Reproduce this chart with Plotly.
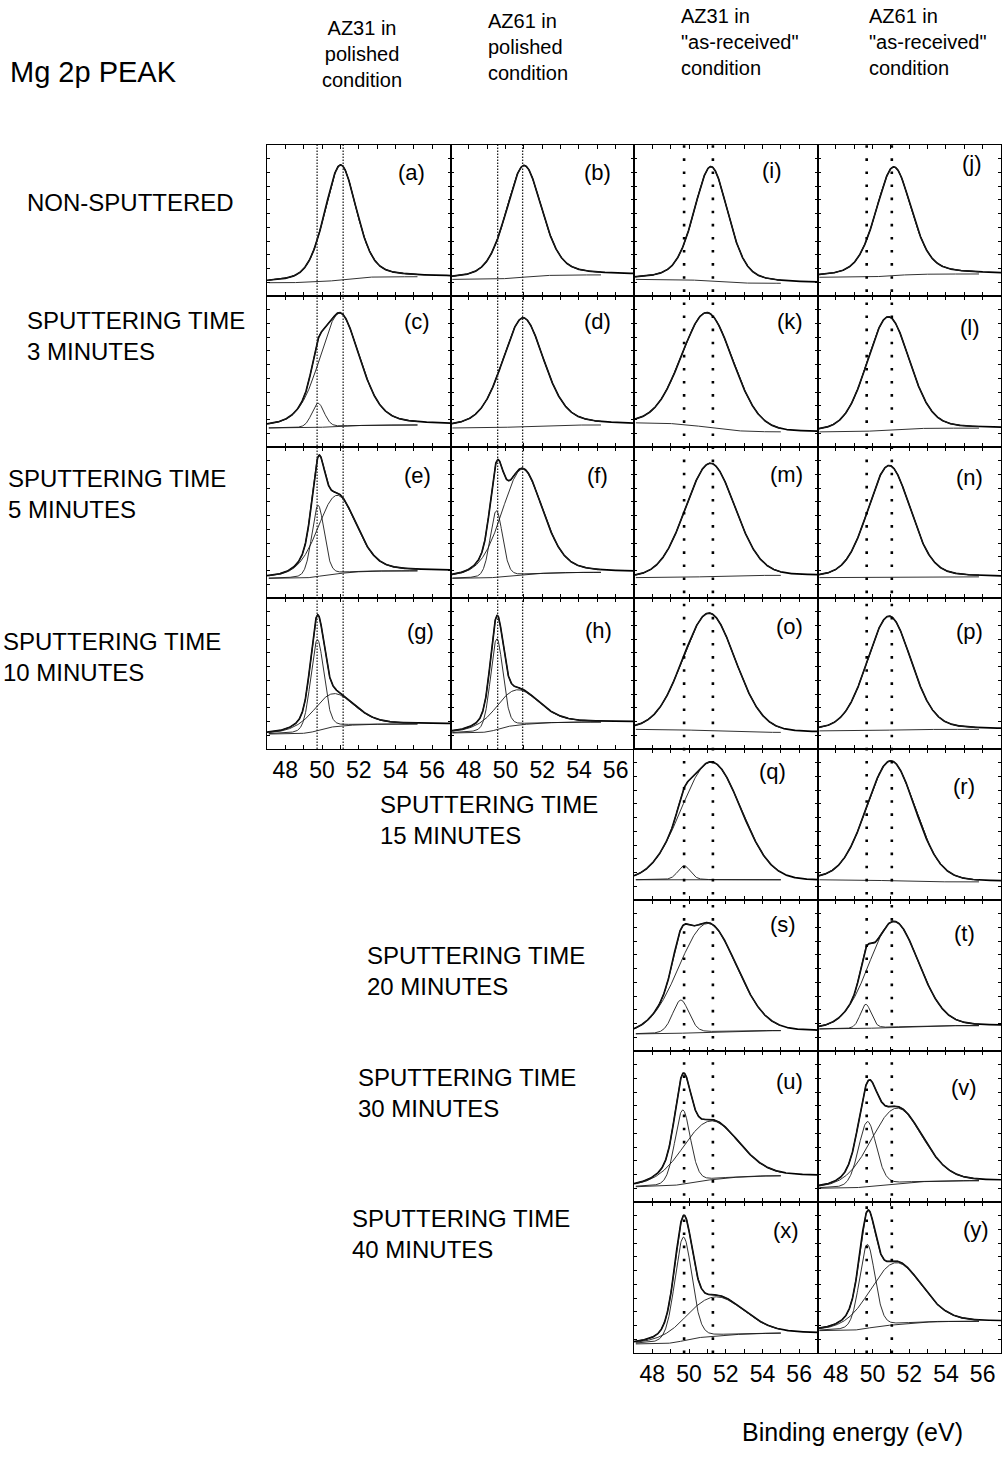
import numpy as np
import plotly.graph_objects as go

# ---- binding-energy axis -------------------------------------------------
E_MIN, E_MAX = 47.0, 57.0
tick_vals = [48, 49, 50, 51, 52, 53, 54, 55, 56]
tick_text = ["48", "", "50", "", "52", "", "54", "", "56"]

# ---- panels (column, row) -----------------------------------------------
panel_ids = ["a", "b", "c", "d", "e", "f", "g", "h",
             "i", "j", "k", "l", "m", "n", "o", "p",
             "q", "r", "s", "t", "u", "v", "x", "y"]
panel_col = [0, 1, 0, 1, 0, 1, 0, 1,
             2, 3, 2, 3, 2, 3, 2, 3,
             2, 3, 2, 3, 2, 3, 2, 3]
panel_row = [0, 0, 1, 1, 2, 2, 3, 3,
             0, 0, 1, 1, 2, 2, 3, 3,
             4, 4, 5, 5, 6, 6, 7, 7]

# ---- fitted Mg 2p components (centre eV, FWHM eV, height a.u.) ----------
# oxidised Mg (MgO / Mg(OH)2)
oxide_center = [51.0, 51.0, 50.95, 50.95, 50.8, 50.9, 50.6, 50.6,
                51.2, 51.15, 51.0, 50.85, 51.15, 50.9, 51.1, 50.9,
                51.2, 51.0, 51.0, 51.15, 51.15, 51.3, 51.4, 51.25]
oxide_fwhm = [2.05, 2.3, 2.6, 2.7, 2.5, 2.65, 2.7, 2.8,
              2.2, 2.3, 3.3, 2.75, 3.2, 2.75, 3.4, 2.85,
              3.8, 3.15, 3.7, 3.2, 3.6, 3.3, 3.7, 3.3]
oxide_height = [0.76, 0.74, 0.75, 0.72, 0.52, 0.70, 0.22, 0.235,
                0.76, 0.72, 0.76, 0.75, 0.75, 0.74, 0.78, 0.755,
                0.78, 0.795, 0.72, 0.70, 0.39, 0.50, 0.26, 0.41]
# Lorentzian fraction of the Gaussian-Lorentzian line shape
oxide_lorentz = [0.35, 0.35, 0.35, 0.35, 0.3, 0.3, 0.3, 0.3,
                 0.35, 0.35, 0.1, 0.2, 0.1, 0.2, 0.1, 0.2,
                 0.0, 0.15, 0.05, 0.1, 0.15, 0.15, 0.15, 0.15]
# metallic Mg (None where no metallic contribution is fitted)
metal_center = [None, None, 49.78, None, 49.78, 49.5, 49.74, 49.52,
                None, None, None, None, None, None, None, None,
                49.73, None, 49.55, 49.63, 49.65, 49.72, 49.69, 49.71]
metal_fwhm = [None, None, 0.8, None, 0.8, 0.8, 0.85, 0.8,
              None, None, None, None, None, None, None, None,
              0.8, None, 1.05, 0.7, 1.0, 1.15, 1.1, 1.0]
metal_height = [None, None, 0.16, None, 0.47, 0.44, 0.60, 0.60,
                None, None, None, None, None, None, None, None,
                0.093, None, 0.22, 0.16, 0.49, 0.43, 0.685, 0.555]
METAL_LORENTZ = 0.2
# background level on the low- and high-binding-energy side
bg_low = [0.088, 0.11, 0.126, 0.126, 0.13, 0.13, 0.099, 0.106,
          0.11, 0.124, 0.16, 0.10, 0.135, 0.135, 0.13, 0.12,
          0.134, 0.134, 0.113, 0.146, 0.101, 0.091, 0.06, 0.148]
bg_high = [0.128, 0.14, 0.146, 0.146, 0.18, 0.17, 0.166, 0.179,
           0.084, 0.146, 0.10, 0.125, 0.15, 0.14, 0.11, 0.13,
           0.134, 0.12, 0.135, 0.168, 0.174, 0.141, 0.132, 0.21]

# reference binding energies marked in each column (eV)
ref_lines = [[49.73, 51.15], [49.57, 50.93], [49.73, 51.3], [49.68, 51.05]]
fit_upper = [55.2, 55.2, 55.0, 55.8]

# ---- text ------------------------------------------------------------------
headers = ["AZ31 in<br>polished<br>condition",
           "AZ61 in<br>polished<br>condition",
           "AZ31 in<br>\"as-received\"<br>condition",
           "AZ61 in<br>\"as-received\"<br>condition"]
row_labels = ["NON-SPUTTERED",
              "SPUTTERING TIME<br>3 MINUTES",
              "SPUTTERING TIME<br>5 MINUTES",
              "SPUTTERING TIME<br>10 MINUTES",
              "SPUTTERING TIME<br>15 MINUTES",
              "SPUTTERING TIME<br>20 MINUTES",
              "SPUTTERING TIME<br>30 MINUTES",
              "SPUTTERING TIME<br>40 MINUTES"]

# ---- page geometry (pixels) -------------------------------------------------
W, H = 1003, 1474
col_edges = [267, 450.5, 634, 817.5, 1001]
row_top0, row_h = 145, 151
header_pos = [(362, 53.5, "center"), (486, 47, "left"), (679, 42, "left"), (867, 42, "left")]
row_label_pos = [(25, 203), (25, 336), (6, 494), (1, 657),
                 (378, 820), (365, 971), (356, 1093), (350, 1234)]
letter_x = [0.79, 0.80, 0.82, 0.80, 0.82, 0.80, 0.835, 0.805,
            0.75, 0.84, 0.85, 0.83, 0.83, 0.83, 0.85, 0.83,
            0.755, 0.80, 0.81, 0.80, 0.85, 0.80, 0.83, 0.865]
letter_y = [0.82, 0.815, 0.83, 0.83, 0.81, 0.81, 0.775, 0.783,
            0.834, 0.88, 0.83, 0.79, 0.82, 0.80, 0.81, 0.78,
            0.85, 0.75, 0.84, 0.775, 0.795, 0.76, 0.81, 0.82]

FONT = "Liberation Sans, Arial, Helvetica, sans-serif"


def gl_peak(e, c, w, h, m):
    """Gaussian-Lorentzian sum line shape of height h and FWHM w."""
    u = (e - c) ** 2 / w ** 2
    return h * ((1.0 - m) * np.exp(-4.0 * np.log(2.0) * u) + m / (1.0 + 4.0 * u))


def px_x(p):
    return p / W


def px_y(p):
    return (H - p) / H


fig = go.Figure()
layout = dict()
energy = np.linspace(E_MIN, E_MAX, 601)
bottom_rows = {0: 3, 1: 3, 2: 7, 3: 7}

for k, pid in enumerate(panel_ids):
    n = k + 1
    xa, ya = ("x" if n == 1 else f"x{n}"), ("y" if n == 1 else f"y{n}")
    c, r = panel_col[k], panel_row[k]

    comps = [gl_peak(energy, oxide_center[k], oxide_fwhm[k], oxide_height[k], oxide_lorentz[k])]
    if metal_center[k] is not None:
        comps.append(gl_peak(energy, metal_center[k], metal_fwhm[k], metal_height[k], METAL_LORENTZ))
    total = np.sum(comps, axis=0)
    # Shirley-type background: step proportional to accumulated peak area
    area = np.cumsum(total)
    bg = bg_low[k] + (bg_high[k] - bg_low[k]) * area / area[-1]
    envelope = bg + total

    # measured spectrum
    fig.add_trace(go.Scatter(x=energy, y=envelope, mode="lines",
                             line=dict(color="black", width=1.7),
                             xaxis=xa, yaxis=ya, hoverinfo="skip", showlegend=False))
    # fitted curves inside the fitting window
    win = (energy >= 47.1) & (energy <= fit_upper[c])
    thin = dict(color="#1a1a1a", width=0.9)
    for curve in [bg] + [bg + cp for cp in comps] + [envelope]:
        fig.add_trace(go.Scatter(x=energy[win], y=curve[win], mode="lines", line=thin,
                                 xaxis=xa, yaxis=ya, hoverinfo="skip", showlegend=False))

    top = row_top0 + r * row_h
    layout["xaxis" if n == 1 else f"xaxis{n}"] = dict(
        domain=[px_x(col_edges[c]), px_x(col_edges[c + 1])], anchor=ya,
        range=[E_MIN, E_MAX], showline=True, mirror="ticks", linecolor="black",
        linewidth=1, ticks="inside", ticklen=4, tickcolor="black", tickwidth=1,
        tickvals=tick_vals, ticktext=tick_text,
        showticklabels=(r == bottom_rows[c]),
        tickfont=dict(family=FONT, size=23, color="black"),
        showgrid=False, zeroline=False, fixedrange=True)
    layout["yaxis" if n == 1 else f"yaxis{n}"] = dict(
        domain=[px_y(top + row_h), px_y(top)], anchor=xa,
        range=[0, 1], showline=True, mirror="ticks", linecolor="black",
        linewidth=1, ticks="inside", ticklen=3, tickcolor="black", tickwidth=1,
        tickvals=list(np.arange(1, 11) / 11.0), showticklabels=False,
        showgrid=False, zeroline=False, fixedrange=True)

annotations = []
for k, pid in enumerate(panel_ids):
    n = k + 1
    annotations.append(dict(
        text=f"({pid})", x=letter_x[k], y=letter_y[k],
        xref=("x" if n == 1 else f"x{n}") + " domain",
        yref=("y" if n == 1 else f"y{n}") + " domain",
        showarrow=False, xanchor="center", yanchor="middle",
        font=dict(family=FONT, size=22, color="black")))

for txt, (hx, hy, al) in zip(headers, header_pos):
    annotations.append(dict(text=txt, x=px_x(hx), y=px_y(hy), xref="paper", yref="paper",
                            showarrow=False, xanchor=al, yanchor="middle", align=al,
                            font=dict(family=FONT, size=20, color="black")))
for txt, (lx, ly) in zip(row_labels, row_label_pos):
    annotations.append(dict(text=txt, x=px_x(lx), y=px_y(ly), xref="paper", yref="paper",
                            showarrow=False, xanchor="left", yanchor="middle", align="left",
                            font=dict(family=FONT, size=24, color="black")))
annotations.append(dict(text="Mg 2p PEAK", x=px_x(8), y=px_y(72), xref="paper", yref="paper",
                        showarrow=False, xanchor="left", yanchor="middle",
                        font=dict(family=FONT, size=29, color="black")))
annotations.append(dict(text="Binding energy (eV)", x=px_x(852), y=px_y(1432),
                        xref="paper", yref="paper", showarrow=False,
                        xanchor="center", yanchor="middle",
                        font=dict(family=FONT, size=25, color="black")))

# dotted reference lines spanning each column
shapes = []
col_first_axis = {0: "x7", 1: "x8", 2: "x23", 3: "x24"}
col_span = {0: (row_top0, row_top0 + 4 * row_h), 1: (row_top0, row_top0 + 4 * row_h),
            2: (row_top0, row_top0 + 8 * row_h), 3: (row_top0, row_top0 + 8 * row_h)}
for c, energies in enumerate(ref_lines):
    y_top, y_bot = col_span[c]
    if c < 2:
        dl = dict(color="#222222", width=1.3, dash="1.5px,1.5px")
    else:
        dl = dict(color="black", width=2.6, dash="2.6px,10.5px")
    for ev in energies:
        shapes.append(dict(type="line", xref=col_first_axis[c], yref="paper",
                           x0=ev, x1=ev, y0=px_y(y_bot), y1=px_y(y_top), line=dl))

fig.update_layout(**layout)
fig.update_layout(width=W, height=H, margin=dict(l=0, r=0, t=0, b=0),
                  paper_bgcolor="white", plot_bgcolor="white",
                  annotations=annotations, shapes=shapes, showlegend=False)

fig.write_html("out.html")
